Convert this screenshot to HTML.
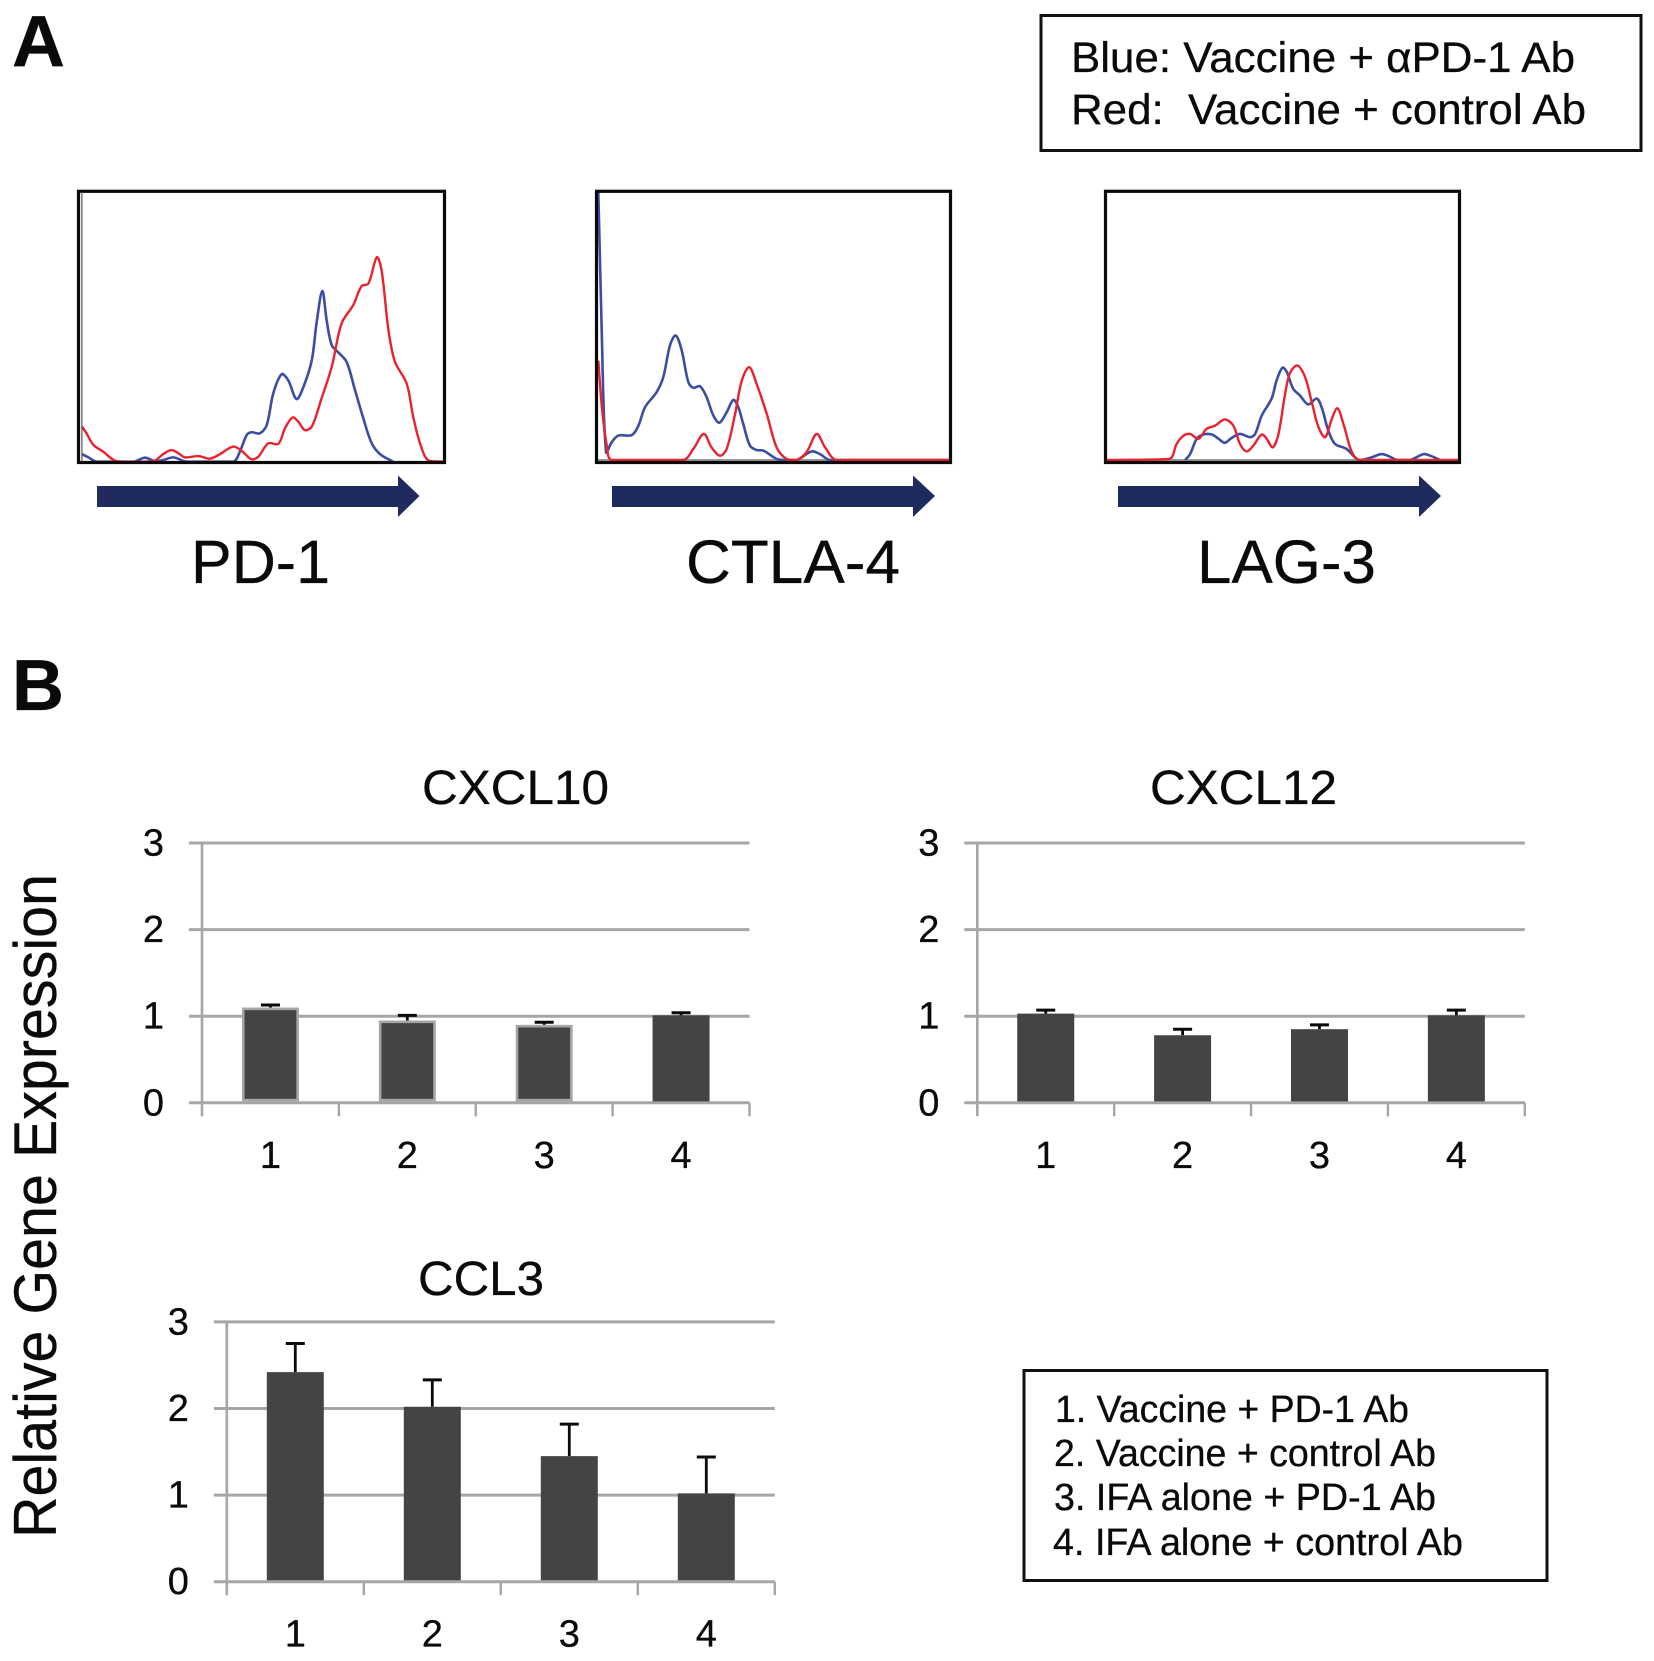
<!DOCTYPE html>
<html lang="en">
<head>
<meta charset="utf-8">
<title>Figure: checkpoint receptor histograms and relative gene expression</title>
<style>
html,body{margin:0;padding:0;background:#fff;}
svg{display:block;}
text{font-family:"Liberation Sans",Arial,sans-serif;fill:#0a0a0a;stroke:#0a0a0a;stroke-width:.3px;white-space:pre;}
</style>
</head>
<body>
<svg id="fig" xmlns="http://www.w3.org/2000/svg" width="1654" height="1661" viewBox="0 0 1654 1661">
  <rect x="0" y="0" width="1654" height="1661" fill="#fff"/>

  <text x="12" y="66" font-size="72" font-weight="bold" textLength="53" lengthAdjust="spacingAndGlyphs">A</text>
  <text x="12" y="710" font-size="72" font-weight="bold" textLength="52" lengthAdjust="spacingAndGlyphs">B</text>

  <g>
    <rect x="1041" y="15.5" width="600" height="135" fill="#fff" stroke="#111" stroke-width="3"/>
    <text x="1071" y="72" font-size="43" textLength="504" lengthAdjust="spacingAndGlyphs">Blue: Vaccine + αPD-1 Ab</text>
    <text x="1071" y="124" font-size="43" textLength="515" lengthAdjust="spacingAndGlyphs">Red:  Vaccine + control Ab</text>
  </g>

  <g id="histograms"></g>

  <g><polygon points="97,486 398,486 398,475.5 419.5,496 398,517 398,507 97,507" fill="#1f2a5e"/></g>
  <g><polygon points="612,486 913,486 913,475.5 935,496 913,517 913,507 612,507" fill="#1f2a5e"/></g>
  <g><polygon points="1118,486 1419,486 1419,475.5 1441,496 1419,517 1419,507 1118,507" fill="#1f2a5e"/></g>

  <text x="191" y="583" font-size="61" textLength="139" lengthAdjust="spacingAndGlyphs">PD-1</text>
  <text x="686" y="583" font-size="61" textLength="214" lengthAdjust="spacingAndGlyphs">CTLA-4</text>
  <text x="1197" y="583" font-size="61" textLength="179" lengthAdjust="spacingAndGlyphs">LAG-3</text>

  <text transform="translate(56,1538) rotate(-90)" x="0" y="0" font-size="60" textLength="664" lengthAdjust="spacingAndGlyphs">Relative Gene Expression</text>

  <g id="bars"></g>

  <g>
    <rect x="1024" y="1370.5" width="523" height="210" fill="#fff" stroke="#111" stroke-width="3"/>
    <text x="1055" y="1422" font-size="38" textLength="354" lengthAdjust="spacingAndGlyphs">1. Vaccine + PD-1 Ab</text>
    <text x="1054" y="1466" font-size="38" textLength="382" lengthAdjust="spacingAndGlyphs">2. Vaccine + control Ab</text>
    <text x="1054" y="1510" font-size="38" textLength="382" lengthAdjust="spacingAndGlyphs">3. IFA alone + PD-1 Ab</text>
    <text x="1053" y="1555" font-size="38" textLength="410" lengthAdjust="spacingAndGlyphs">4. IFA alone + control Ab</text>
  </g>
</svg>

<script>
// ---------- Histogram data: fluorescence channel (0-100) and event count (0-100) ----------
const pd1BlueChannel = [0.55,2.3,4.6,14.7,17.9,20.6,22.9,25.7,29.4,42.2,44,45.9,47.2,49.5,51.4,53.2,55.5,57.3,59.6,61.5,63.8,65.1,66.7,67.9,69.3,71.1,73.4,75.7,78,80.3,82.6,86.2];
const pd1BlueCount = [2.8,1.6,0,0,1.5,0.2,0.6,1.6,0,0,3.7,9.9,10.9,10.5,13.6,25.3,32.4,30.2,23.2,27.7,37.6,51.2,63.2,52.3,43.1,40.5,36.9,26.5,16,6.8,2.8,0];
const pd1RedChannel = [0.55,1.8,3.7,6.4,9.6,12.8,17.4,20.6,22.9,25.2,27.1,28.9,32.6,35.8,38.5,42.2,44.5,47.2,49.1,51.8,54.6,56.4,58.5,60.1,61.9,63.8,66.5,69.3,72,75.2,77.5,79.4,81.7,83,84.9,86.7,89.9,91.7,93.6,95.9,100];
const pd1RedCount = [13,10.5,6.2,3.7,0.4,0,0,0.4,2.8,4.3,3.1,1.6,2.1,1.1,2.8,5.6,4,0.9,1.9,6.8,6.6,12.3,16.4,14.8,11.7,13,23.5,35.2,51.2,58,65,66,75.7,71,48.8,37,29,16.7,6.8,0.4,0];

const ctla4BlueChannel = [0,1,2.2,3.8,5.7,9.5,11.4,13.3,16.6,18.5,20.4,22,23.7,25.6,27,28.9,30.8,32.7,34.4,36.5,38.4,39.8,41.2,43.1,45,46.9,50.7,52.6,56.4,60.7,63,65.9,100];
const ctla4BlueCount = [100,46.3,2.9,6.6,9.1,9.3,12.8,19.7,25.3,31,42.8,46.4,40.9,29,26.9,27.5,23.4,16.6,13.9,17.8,22.4,19.7,13.5,5.4,3.7,3.5,0.4,0,0,3.2,2.2,0,0];
const ctla4RedChannel = [0,1,2.4,3.8,24.2,27,30,32.2,34.6,36.5,38.9,40.8,42.9,45,47.9,50.7,53.5,56.4,59.2,62.1,64.5,67.8,100];
const ctla4RedCount = [37,20,5.5,0,0,4.1,9.7,4.7,1.6,4.1,17.2,29.6,34.6,28.4,17.2,4.7,0.4,0,2.9,9.7,4.7,0,0];

const lag3BlueChannel = [22.3,23.7,25.6,27.5,29.9,31.8,33.6,35.5,37.9,40.8,42.2,44.1,46.9,48.3,50,51.2,53,54.9,57.3,59.7,61.1,63,64.9,68.2,71.1,72.5,75.8,78.2,80.6,82.5,86.3,90.1,92,94.8];
const lag3BlueCount = [0,2.2,7.9,9.5,9.5,7.9,6.4,8.2,9.7,8.5,9.7,16.6,22.9,29.6,34.4,32.8,26.6,24.1,20.7,22.9,19.7,11,6,4.1,0.4,0,1.2,2.2,1.2,0,0,2.2,1.6,0];
const lag3RedChannel = [0,17.8,19.9,21.8,23.7,26.1,28.4,30.8,33.6,36,37.9,39.8,41.7,44.1,45.5,47.2,48.8,50.7,52.1,54.2,56.4,58.3,60.2,62.1,64,65.6,67.3,69.7,72,100];
const lag3RedCount = [0,0.4,6,9,9.7,7.9,11.6,12.8,15.1,12.8,6,3.2,5.4,9.5,7.9,4.7,9.5,24.4,32.4,35.2,30.9,21.6,12.3,8.5,15.3,19.3,13.5,3,0,0];

// ---------- Bar chart data ----------
const categories = ["1","2","3","4"];
const yTickLabels = [0,1,2,3];
const cxcl10Values = [1.10,0.95,0.90,1.01];
const cxcl10Upper = [1.13,1.01,0.93,1.04];
const cxcl12Values = [1.03,0.78,0.85,1.01];
const cxcl12Upper = [1.07,0.85,0.90,1.07];
const ccl3Values = [2.42,2.02,1.45,1.02];
const ccl3Upper = [2.75,2.33,1.82,1.44];

const NS = "http://www.w3.org/2000/svg";
function make(tag, attrs, parent){
  const el = document.createElementNS(NS, tag);
  for (const k in attrs) el.setAttribute(k, attrs[k]);
  parent.appendChild(el);
  return el;
}

// ---------- Histograms ----------
const histRoot = document.getElementById("histograms");

function curvePath(channels, counts, xs, ys){
  const pts = channels.map((c,i)=>[xs(c), ys(counts[i])]);
  const base = ys(0);
  const dist = (a,b)=>Math.hypot(a[0]-b[0], a[1]-b[1]);
  // tangent at a point, scaled per unit of chord length so long flat runs do not overshoot
  const tangent = i => {
    const a = pts[Math.max(i-1,0)], b = pts[Math.min(i+1,pts.length-1)];
    const len = (i>0?dist(a,pts[i]):0) + (i<pts.length-1?dist(pts[i],b):0) || 1;
    return [(b[0]-a[0])/len, (b[1]-a[1])/len];
  };
  let d = "M" + pts[0][0].toFixed(2) + " " + pts[0][1].toFixed(2);
  for (let i=0;i<pts.length-1;i++){
    const p1 = pts[i], p2 = pts[i+1], seg = dist(p1,p2)/3;
    const t1 = tangent(i), t2 = tangent(i+1);
    const c1x = p1[0]+t1[0]*seg, c1y = Math.min(p1[1]+t1[1]*seg, base);
    const c2x = p2[0]-t2[0]*seg, c2y = Math.min(p2[1]-t2[1]*seg, base);
    d += "C"+c1x.toFixed(2)+" "+c1y.toFixed(2)+" "+c2x.toFixed(2)+" "+c2y.toFixed(2)+" "+p2[0].toFixed(2)+" "+p2[1].toFixed(2);
  }
  return d;
}

function drawHistogram(name, layout, blueC, blueN, redC, redN){
  const g = make("g", {}, histRoot);
  
  
  const xs = c => layout.x0 + c/100*layout.w;
  const ys = n => layout.base - n/100*layout.h;

  if (layout.greyBase){
    const gb = make("line", {x1:layout.fx0, x2:layout.fx1, y1:layout.base, y2:layout.base, stroke:"#9a9a9a", "stroke-width":2}, g);
    
    
  }
  const blue = make("path", {d:curvePath(blueC,blueN,xs,ys), fill:"none", stroke:"#3b4ea3", "stroke-width":2.6, "stroke-linejoin":"round"}, g);
  
  
  const red = make("path", {d:curvePath(redC,redN,xs,ys), fill:"none", stroke:"#e8232e", "stroke-width":2.4, "stroke-linejoin":"round"}, g);
  
  
  const frame = make("rect", {x:layout.fx0, y:191.3, width:layout.fx1-layout.fx0, height:271.2, fill:"none", stroke:"#0a0a0a", "stroke-width":3.2}, g);
  
  
  if (layout.innerLine){
    const il = make("line", {x1:layout.fx0+3.4, x2:layout.fx0+3.4, y1:192, y2:462, stroke:"#555", "stroke-width":1.2}, g);
    
    
  }
}

drawHistogram("pd1", {x0:80, w:363.3, base:461.7, h:270, fx0:78.5, fx1:444.5, innerLine:true}, pd1BlueChannel, pd1BlueCount, pd1RedChannel, pd1RedCount);
drawHistogram("ctla4", {x0:598.3, w:351.7, base:460, h:268.4, fx0:596.5, fx1:950.5, greyBase:true}, ctla4BlueChannel, ctla4BlueCount, ctla4RedChannel, ctla4RedCount);
drawHistogram("lag3", {x0:1106.7, w:351.7, base:460, h:268.4, fx0:1105.5, fx1:1459.5, greyBase:true}, lag3BlueChannel, lag3BlueCount, lag3RedChannel, lag3RedCount);

// ---------- Bar panels ----------
const barRoot = document.getElementById("bars");
const AXIS = "#a6a6a6", BAR = "#444444";

function drawBarPanel(name, title, layout, values, upper){
  const g = make("g", {}, barRoot);
  
  
  const y = v => layout.y0 - v*layout.unit;
  const band = layout.w / categories.length;
  const x = i => layout.x0 + band*(i+0.5);

  const t = make("text", {x:layout.titleX, y:layout.titleY, "font-size":48, textLength:layout.titleW, lengthAdjust:"spacingAndGlyphs"}, g);
  t.textContent = title;
  
  

  yTickLabels.forEach(v=>{
    const grid = make("line", {x1:layout.x0-13, x2:layout.x0+layout.w, y1:y(v), y2:y(v), stroke:AXIS, "stroke-width":3}, g);
    
    
    const lab = make("text", {x:layout.x0-48.5, y:y(v)+12.5, "font-size":38, "text-anchor":"middle"}, g);
    lab.textContent = String(v);
    
    
  });

  const axis = make("line", {x1:layout.x0, x2:layout.x0, y1:y(yTickLabels[yTickLabels.length-1])-1, y2:layout.y0+13.5, stroke:AXIS, "stroke-width":2.6}, g);
  
  

  for (let i=1;i<=categories.length;i++){
    const tx = layout.x0 + band*i;
    const tick = make("line", {x1:tx, x2:tx, y1:layout.y0, y2:layout.y0+13.5, stroke:AXIS, "stroke-width":2.4}, g);
    
    
  }

  categories.forEach((c,i)=>{
    const cx = x(i);
    const top = y(values[i]);
    const capY = y(upper[i]);
    const err = make("line", {x1:cx, x2:cx, y1:top, y2:capY, stroke:"#0a0a0a", "stroke-width":2.8}, g);
    
    
    const cap = make("line", {x1:cx-9.5, x2:cx+9.5, y1:capY, y2:capY, stroke:"#0a0a0a", "stroke-width":3}, g);
    
    

    const outlined = i < layout.outlineCount;
    const inset = outlined ? 1.3 : 0;
    const bar = make("rect", {x:cx-28.5+inset, y:top+inset, width:57-2*inset, height:layout.y0-1.4-top-2*inset, fill:BAR}, g);
    if (outlined){
      bar.setAttribute("stroke", AXIS);
      bar.setAttribute("stroke-width", 2.6);
    }
    
    

    const lab = make("text", {x:cx, y:layout.y0+65, "font-size":38, "text-anchor":"middle"}, g);
    lab.textContent = c;
    
    
  });
}

drawBarPanel("cxcl10", "CXCL10", {x0:202, w:547.5, y0:1102.8, unit:86.6, titleX:422, titleY:804, titleW:187, outlineCount:3}, cxcl10Values, cxcl10Upper);
drawBarPanel("cxcl12", "CXCL12", {x0:977.3, w:547.5, y0:1102.8, unit:86.6, titleX:1150, titleY:804, titleW:187, outlineCount:0}, cxcl12Values, cxcl12Upper);
drawBarPanel("ccl3", "CCL3", {x0:226.8, w:548, y0:1581.7, unit:86.6, titleX:418, titleY:1295, titleW:126, outlineCount:0}, ccl3Values, ccl3Upper);
</script>
</body>
</html>
